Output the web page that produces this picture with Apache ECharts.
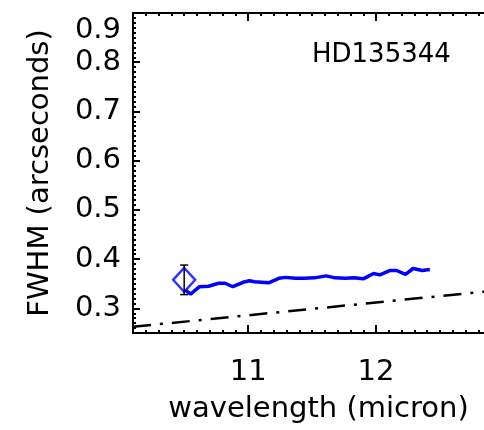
<!DOCTYPE html>
<html>
<head>
<meta charset="utf-8">
<script src="https://cdn.jsdelivr.net/npm/echarts@6/dist/echarts.min.js"></script>
<style>
  html, body { margin: 0; padding: 0; background: #fff; }
  #chart { width: 484px; height: 430px; }
</style>
</head>
<body>
<div id="chart"></div>
<script>
// Measured FWHM along the spectrum (micron, arcsec)
const wavelength = [10.51, 10.55, 10.62, 10.69, 10.77, 10.82, 10.88, 10.96, 11.01, 11.05,
                    11.16, 11.24, 11.29, 11.37, 11.44, 11.52, 11.61, 11.68, 11.76, 11.83,
                    11.90, 11.93, 11.98, 12.03, 12.11, 12.16, 12.23, 12.29, 12.36, 12.42];
const fwhm = [0.337, 0.329, 0.344, 0.345, 0.351, 0.351, 0.344, 0.353, 0.356, 0.354,
              0.352, 0.361, 0.363, 0.361, 0.361, 0.362, 0.366, 0.362, 0.361, 0.362,
              0.360, 0.364, 0.371, 0.368, 0.377, 0.377, 0.369, 0.381, 0.377, 0.379];

// Broadband point with its uncertainty
const bandWave = [10.5];
const bandFwhm = [0.358];
const bandLow = [0.328];
const bandHigh = [0.388];

// Diffraction limit line
const limitWave = [10.1, 13.0];
const limitFwhm = [0.2626, 0.338];

// Axis ticks and labels
const xMajorTicks = [11, 12, 13];
const xTickLabels = [11, 12];
const yMajorTicks = [0.3, 0.4, 0.5, 0.6, 0.7, 0.8, 0.9];
const yTickLabels = [0.3, 0.4, 0.5, 0.6, 0.7, 0.8, 0.9];
const xMin = 10.1, xMax = 13.0, yMin = 0.25, yMax = 0.9;
const starName = 'HD135344';

const xMinorTicks = [];
for (let i = 1; i <= 30; i++) xMinorTicks.push(Math.round((10 + i * 0.1) * 10) / 10);
const yMinorTicks = [];
for (let i = 25; i <= 90; i++) yMinorTicks.push(i / 100);

const FONT = 'DejaVu Sans';
const BLACK = '#000';
const axisLine = { show: true, onZero: false, lineStyle: { color: BLACK, width: 2 } };

function xAxisDef(position, major) {
  return {
    type: 'value', position: position, min: xMin, max: xMax,
    axisLine: major ? axisLine : { show: false },
    splitLine: { show: false },
    axisTick: {
      show: true, inside: true, length: major ? 8 : 3,
      customValues: major ? xMajorTicks : xMinorTicks,
      lineStyle: { color: BLACK, width: 2 }
    },
    axisLabel: (major && position === 'bottom') ? {
      show: true, customValues: xTickLabels, margin: 25,
      fontFamily: FONT, fontSize: 29, color: BLACK,
      formatter: v => String(Math.round(v))
    } : { show: false }
  };
}

function yAxisDef(position, major) {
  return {
    type: 'value', position: position, min: yMin, max: yMax,
    axisLine: major ? axisLine : { show: false },
    splitLine: { show: false },
    axisTick: {
      show: true, inside: true, length: major ? 7 : 3,
      customValues: major ? yMajorTicks : yMinorTicks,
      lineStyle: { color: BLACK, width: 2 }
    },
    axisLabel: (major && position === 'left') ? {
      show: true, customValues: yTickLabels, margin: 12,
      fontFamily: FONT, fontSize: 29, color: BLACK,
      formatter: v => (v > 0.85 ? '{top|' + v.toFixed(1) + '}' : v.toFixed(1)),
      rich: { top: { fontFamily: FONT, fontSize: 29, color: BLACK, padding: [34, 0, 0, 0] } }
    } : { show: false }
  };
}

const xAxes = [xAxisDef('bottom', true), xAxisDef('bottom', false), xAxisDef('top', true), xAxisDef('top', false)];
Object.assign(xAxes[0], {
  name: 'wavelength (micron)', nameLocation: 'middle', nameGap: 62,
  nameTextStyle: { fontFamily: FONT, fontSize: 29, color: BLACK }
});
const yAxes = [yAxisDef('left', true), yAxisDef('left', false), yAxisDef('right', true), yAxisDef('right', false)];
Object.assign(yAxes[0], {
  name: 'FWHM (arcseconds)', nameLocation: 'middle', nameGap: 78,
  nameTextStyle: { fontFamily: FONT, fontSize: 29, color: BLACK }
});

const chart = echarts.init(document.getElementById('chart'), null, { renderer: 'canvas' });
chart.setOption({
  animation: false,
  backgroundColor: '#fff',
  title: {
    text: starName, left: 312, top: 42, padding: 0,
    textStyle: { fontFamily: FONT, fontSize: 26, fontWeight: 'normal', color: BLACK }
  },
  grid: { left: 133, top: 13, width: 371, height: 320, containLabel: false, outerBoundsMode: 'none' },
  xAxis: xAxes,
  yAxis: yAxes,
  series: [
    {
      type: 'line', name: 'limit', xAxisIndex: 0, yAxisIndex: 0,
      data: limitWave.map((w, i) => [w, limitFwhm[i]]),
      showSymbol: false, silent: true,
      lineStyle: { color: BLACK, width: 2.5, type: [18, 9, 3, 9] }
    },
    {
      type: 'line', name: 'fwhm', xAxisIndex: 0, yAxisIndex: 0,
      data: wavelength.map((w, i) => [w, fwhm[i]]),
      showSymbol: false, silent: true,
      lineStyle: { color: '#0000ff', width: 3.5 }
    },
    {
      type: 'scatter', name: 'band', xAxisIndex: 0, yAxisIndex: 0,
      data: bandWave.map((w, i) => [w, bandFwhm[i]]),
      symbol: 'diamond', symbolSize: [22, 24],
      itemStyle: { color: 'rgba(0,0,0,0)', borderColor: '#0000ff', borderWidth: 2.5 }
    },
    {
      type: 'custom', name: 'error', xAxisIndex: 0, yAxisIndex: 0, z: 5,
      data: bandWave.map((w, i) => [w, bandLow[i], bandHigh[i]]),
      renderItem: function (params, api) {
        const lo = api.coord([api.value(0), api.value(1)]);
        const hi = api.coord([api.value(0), api.value(2)]);
        const cap = 4;
        const style = { stroke: BLACK, lineWidth: 1.5 };
        return {
          type: 'group',
          children: [
            { type: 'line', shape: { x1: lo[0], y1: lo[1], x2: hi[0], y2: hi[1] }, style: style },
            { type: 'line', shape: { x1: lo[0] - cap, y1: lo[1], x2: lo[0] + cap, y2: lo[1] }, style: style },
            { type: 'line', shape: { x1: hi[0] - cap, y1: hi[1], x2: hi[0] + cap, y2: hi[1] }, style: style }
          ]
        };
      }
    }
  ]
});
</script>
</body>
</html>
